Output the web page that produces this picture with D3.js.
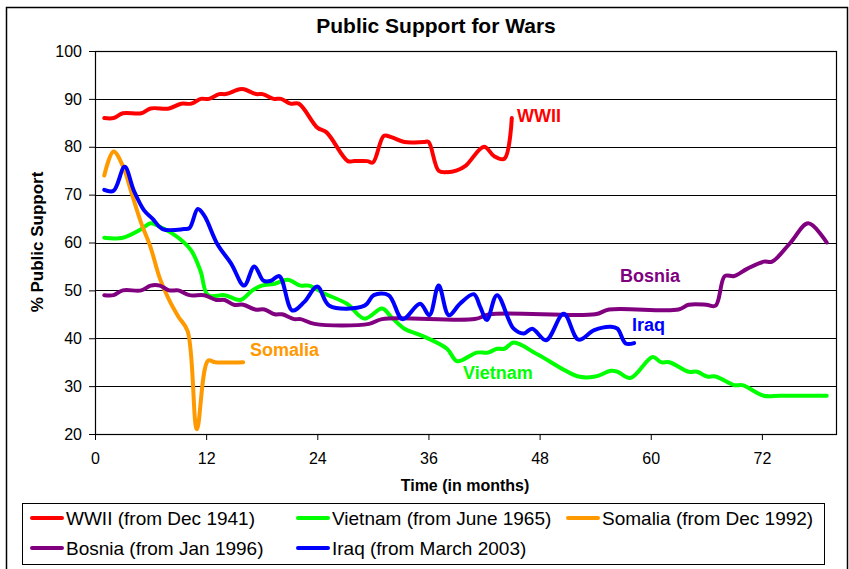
<!doctype html>
<html>
<head>
<meta charset="utf-8">
<style>
    body { margin: 0; background: #fff; }
    text { font-family: Arial, "Liberation Sans", sans-serif; }
    .axis path { display: none; }
    .axis line { stroke: #000; }
    .axis text { font-size: 16px; fill: #000; }
</style>
<script src="https://d3js.org/d3.v7.min.js"></script>
</head>
<body>
<svg width="849" height="569"></svg>
<script>
// values: month since start, % support
var wwiiMonths = [1,2,3,5,6,8,9.3,10.4,11.4,12.3,13.4,14.1,15.6,16.1,17.4,18.1,19.3,20.1,21.1,22,24,25,27.3,28,29.4,30,31.2,32,33.4,35.5,36,37.1,38,39,40,42,43.1,44.2,45];
var wwiiValues = [86,86,87,87,88,88,89,89,90,90,91,91,92,92,91,91,90,90,89,89,84,83,77,77,77,76.7,82.3,82,81,81,81,75,74.7,75,76,80,78,77.5,86];

var vietnamMonths = [1,3,5,6,7,9,10.4,11.4,12.2,14,15.7,17,18,19.4,20.8,22.2,23.1,24.8,27.2,29.1,31,32,33.4,35.2,38,39.1,41.2,42.4,43.4,44.2,45.2,47.8,52.2,54,55.7,56.4,57.8,60.2,61.1,62,64.1,65,66.1,67,69,69.9,72.2,74,79];
var vietnamValues = [61,61,62.8,64,63.3,61,58.3,54,49,49,48,50,51,51.4,52.2,51,51,49.3,47.2,44.1,46.2,44.4,42,40.6,37.8,35.2,37,37,37.8,37.8,39.1,36.6,32,32,33.2,33,31.7,36.1,35,35,33,33,32,32,30.2,30.2,28,28,28];

var somaliaMonths = [1,2,3,4,5,6,7,8,9,10,11,12.2,13,16];
var somaliaValues = [74,79,76,70,64,59,52.5,48,44.5,41.5,21,35.3,35,35];

var bosniaMonths = [1,2,3,5,6,7,8,9,10.2,11.8,13.1,14,15,16,17.3,18.3,19.4,20.2,21.5,22.2,23.7,29.6,31,41,42.6,54,55.5,63,64.1,66,67,68,69,70.4,72.2,73.1,75.1,77,79];
var bosniaValues = [49,49,50,50,51,51,50,50,49,49,48,48,47,47,46,46,45,45,44,44,43,43,44,44,45,45,46,46,47,47,46.8,53,53,54.5,56,56,60,64,60];

var iraqMonths = [1,2,3.2,4.2,5.3,6.2,7.3,9.6,10.2,11.1,11.8,13.2,14.7,16.1,17.2,18.2,19,19.9,21.3,22.6,24,25.3,29.1,30.1,31.7,33.2,35.1,36.1,37.1,38.2,39.4,40.9,41.6,42.3,43.4,45.2,46.3,47.2,48.7,50.6,52.2,53.9,55.7,56.4,57.3,58.2];
var iraqValues = [71,70.8,75.8,70.8,66.7,65,62.8,62.8,63,67,65.6,59.7,55.6,51,55,52,52,53,45.8,47.6,50.8,46.8,46.8,49,49,44,47.2,44.8,51,44.8,47.2,49.2,46.5,43.8,49,42,41,42,39.6,45.1,39.7,41.7,42.4,42,38.9,39];

var yTicks = [20,30,40,50,60,70,80,90,100];
var xTicks = [0,12,24,36,48,60,72];

var legendNames = ["WWII (from Dec 1941)","Vietnam (from June 1965)","Somalia (from Dec 1992)","Bosnia (from Jan 1996)","Iraq (from March 2003)"];
var labelNames = ["WWII","Vietnam","Somalia","Bosnia","Iraq"];

var series = [
    {months: wwiiMonths, values: wwiiValues, color: "#ff0000"},
    {months: vietnamMonths, values: vietnamValues, color: "#00ff00"},
    {months: somaliaMonths, values: somaliaValues, color: "#ff9900"},
    {months: bosniaMonths, values: bosniaValues, color: "#800080"},
    {months: iraqMonths, values: iraqValues, color: "#0000ff"}
];

var svg = d3.select("svg"),
    plotLeft = 95, plotTop = 51,
    width = 741, height = 383;

// outer chart border
svg.append("rect")
   .attr("x", 6.5).attr("y", 7.5)
   .attr("width", 841).attr("height", 570)
   .attr("fill", "none").attr("stroke", "#000").attr("stroke-width", 1.5);

svg.append("text")
   .attr("x", 436).attr("y", 33)
   .attr("text-anchor", "middle")
   .attr("font-size", "21px").attr("font-weight", "bold")
   .text("Public Support for Wars");

var x = d3.scaleLinear().domain([0, 80]).range([0, width]),
    y = d3.scaleLinear().domain([20, 100]).range([height, 0]);

var g = svg.append("g").attr("transform", "translate(" + plotLeft + "," + plotTop + ")");

// gridlines
g.append("g")
 .selectAll("line")
 .data(yTicks)
 .enter().append("line")
 .attr("x1", 0).attr("x2", width)
 .attr("y1", function(d) { return Math.round(y(d)) + 0.5; })
 .attr("y2", function(d) { return Math.round(y(d)) + 0.5; })
 .attr("stroke", "#000").attr("stroke-width", 1);

g.append("rect")
 .attr("x", 0.5).attr("y", 0.5)
 .attr("width", width).attr("height", height)
 .attr("fill", "none").attr("stroke", "#000").attr("stroke-width", 1.2);

g.append("g")
 .attr("class", "axis")
 .call(d3.axisLeft(y).tickValues(yTicks).tickSize(6).tickPadding(7));

g.append("g")
 .attr("class", "axis")
 .attr("transform", "translate(0," + height + ")")
 .call(d3.axisBottom(x).tickValues(xTicks).tickSize(6).tickPadding(13));

svg.append("text")
   .attr("x", 465).attr("y", 491)
   .attr("text-anchor", "middle")
   .attr("font-size", "16px").attr("font-weight", "bold")
   .text("Time (in months)");

svg.append("text")
   .attr("transform", "translate(43,242) rotate(-90)")
   .attr("text-anchor", "middle")
   .attr("font-size", "17px").attr("font-weight", "bold")
   .text("% Public Support");

var line = d3.line()
    .x(function(d) { return x(d[0]); })
    .y(function(d) { return y(d[1]); })
    .curve(d3.curveCatmullRom.alpha(0.5));

series.forEach(function(s) {
    var pts = s.months.map(function(m, i) { return [m, s.values[i]]; });
    g.append("path")
     .datum(pts)
     .attr("fill", "none")
     .attr("stroke", s.color)
     .attr("stroke-width", 4)
     .attr("stroke-linejoin", "round")
     .attr("stroke-linecap", "round")
     .attr("d", line);
});

// in-chart series labels
var labelPos = [[517,122],[463,379],[250,356],[620,282],[632,331]];
labelNames.forEach(function(name, i) {
    svg.append("text")
       .attr("x", labelPos[i][0]).attr("y", labelPos[i][1])
       .attr("font-size", "18px").attr("font-weight", "bold")
       .attr("fill", series[i].color)
       .text(name);
});

// legend
svg.append("rect")
   .attr("x", 22.5).attr("y", 503.5)
   .attr("width", 802).attr("height", 61)
   .attr("fill", "#fff").attr("stroke", "#000").attr("stroke-width", 1);

var legendX = [32, 298, 568],
    legendY = [518, 548];
legendNames.forEach(function(name, i) {
    var lx = legendX[i % 3], ly = legendY[Math.floor(i / 3)];
    svg.append("line")
       .attr("x1", lx).attr("x2", lx + 30)
       .attr("y1", ly).attr("y2", ly)
       .attr("stroke", series[i].color).attr("stroke-width", 4)
       .attr("stroke-linecap", "round");
    svg.append("text")
       .attr("x", lx + 34).attr("y", ly + 7)
       .attr("font-size", "19px")
       .text(name);
});
</script>
</body>
</html>
